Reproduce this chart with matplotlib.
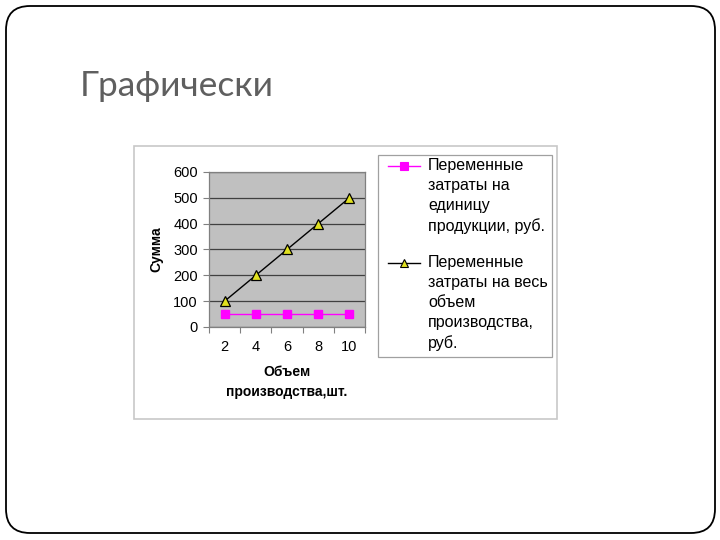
import matplotlib
matplotlib.use("Agg")
import matplotlib.pyplot as plt
from matplotlib.patches import Rectangle, FancyBboxPatch
from matplotlib.lines import Line2D

plt.rcParams['font.family'] = ['Liberation Sans', 'DejaVu Sans']

# данные
obem = ['2', '4', '6', '8', '10']
zatr_ed = [50, 50, 50, 50, 50]
zatr_ves = [100, 200, 300, 400, 500]

leg1 = 'Переменные\nзатраты на\nединицу\nпродукции, руб.'
leg2 = 'Переменные\nзатраты на весь\nобъем\nпроизводства,\nруб.'

W, H = 720, 540
fig = plt.figure(figsize=(7.2, 5.4), dpi=100)

# фон слайда в пикселях
bg = fig.add_axes([0, 0, 1, 1])
bg.set_xlim(0, W)
bg.set_ylim(H, 0)
bg.axis('off')
bg.add_patch(FancyBboxPatch((6, 6), 709, 527, boxstyle="round,pad=0,rounding_size=24",
                            fill=False, ec='black', lw=1.3))
bg.add_patch(Rectangle((134, 146), 423, 273, fill=True, fc='white', ec='#c8c8c8', lw=1.2))
bg.add_patch(Rectangle((378, 155), 174, 202, fill=False, ec='#a0a0a0', lw=0.9))

fig.text(80 / W, 1 - 96 / H, 'Графически', fontsize=25.5, color='#5f5f5f',
         family=['Lato', 'DejaVu Sans'], va='baseline', ha='left')

# легенда вручную
for y, col, mk, fc, ec in [(166, '#ff00ff', 's', '#ff00ff', '#ff00ff'),
                           (263, 'black', '^', '#e0e020', 'black')]:
    bg.add_line(Line2D([388, 420], [y, y], color=col, lw=1))
    bg.add_line(Line2D([404], [y], marker=mk, ms=5.5, mfc=fc, mec=ec, mew=0.8, color=col))
bg.text(428, 158, leg1, fontsize=11.5, va='top', ha='left', linespacing=1.42)
bg.text(428, 255, leg2, fontsize=11.5, va='top', ha='left', linespacing=1.42)

ax = fig.add_axes([209 / W, 1 - 327 / H, 156 / W, 155 / H])
ax.set_facecolor('#c0c0c0')
x = list(range(1, len(obem) + 1))
ax.plot(x, zatr_ed, color='#ff00ff', lw=1, marker='s', ms=6, mfc='#ff00ff', mec='#ff00ff', zorder=3)
ax.plot(x, zatr_ves, color='black', lw=1, marker='^', ms=7, mfc='#e0e020', mec='black', mew=0.9, zorder=3)

ax.set_xlim(0.5, 5.5)
ax.set_ylim(0, 600)
ax.set_yticks(range(0, 601, 100))
ax.set_xticks([0.5 + i for i in range(6)])
ax.set_xticklabels([])
ax.set_xticks(x, minor=True)
ax.set_xticklabels(obem, minor=True)
ax.tick_params(axis='x', which='major', length=4, color='#808080', direction='out')
ax.tick_params(axis='x', which='minor', length=0, pad=9.5, labelsize=10.5)
ax.tick_params(axis='y', length=4, color='#808080', labelsize=10.5, pad=4)
ax.yaxis.grid(True, color='#404040', lw=0.9)
ax.set_axisbelow(True)
for s in ax.spines.values():
    s.set_color('#808080')
    s.set_linewidth(0.9)

ax.set_ylabel('Сумма', fontsize=10, fontweight='bold', labelpad=7)
ax.set_xlabel('Объем\nпроизводства,шт.', fontsize=10, fontweight='bold', labelpad=8, linespacing=1.5)

fig.savefig('out.png', dpi=100)
